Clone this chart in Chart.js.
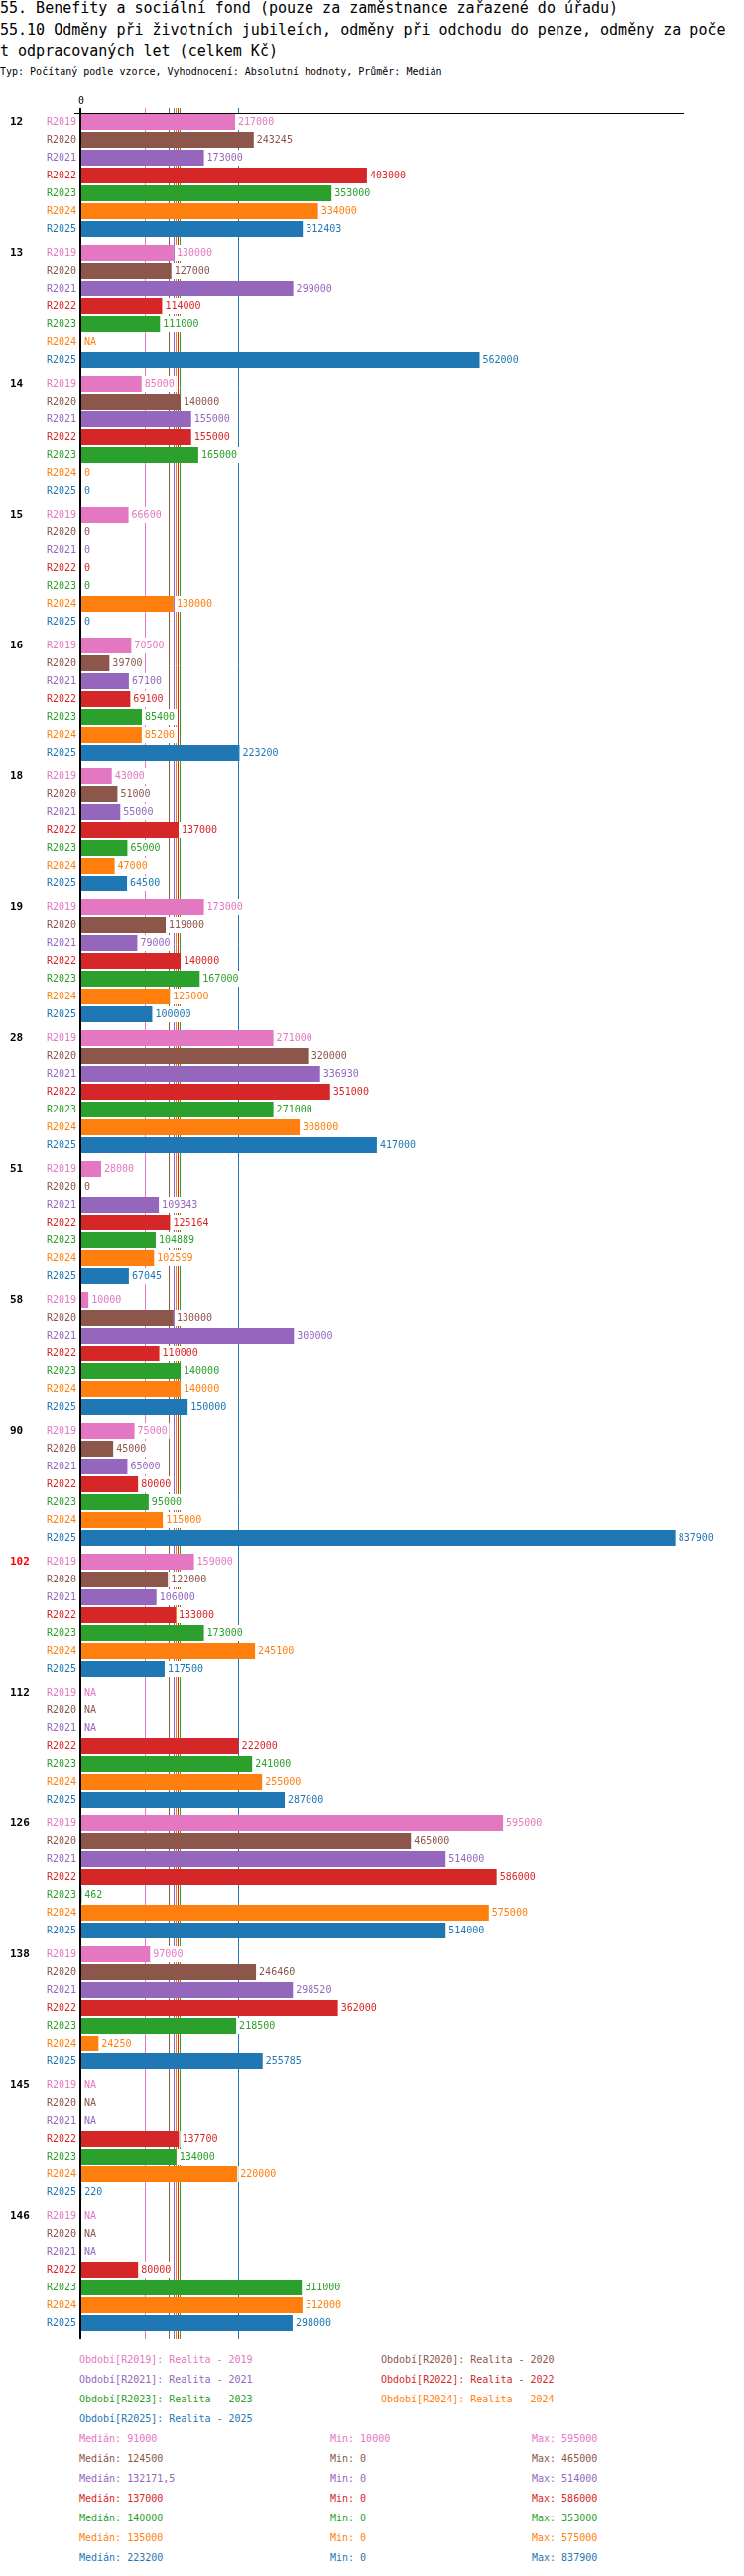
<!DOCTYPE html>
<html>
<head>
<meta charset="utf-8">
<title>55.10 Odměny</title>
<script src="https://cdn.jsdelivr.net/npm/chart.js@4.4.1/dist/chart.umd.min.js"></script>
<style>
    body { margin: 0; background: #fff; }
    #page { position: relative; width: 750px; height: 2598px; overflow: hidden; font-family: "DejaVu Sans Mono", monospace; }
    .title { position: absolute; left: 0; font-size: 15px; color: #000; }
    #title1 { top: -2px; line-height: 20px; white-space: nowrap; }
    #title2 { top: 20px; line-height: 21px; width: 738px; word-break: break-all; }
    #sub { position: absolute; left: 0; top: 66px; font-size: 10px; line-height: 14px; white-space: nowrap; }
    #chartBox { position: absolute; left: 0; top: 88px; }
    .leg { position: absolute; font-size: 10px; line-height: 14px; white-space: nowrap; }
</style>
</head>
<body>
<div id="page">
    <div class="title" id="title1">55. Benefity a sociální fond (pouze za zaměstnance zařazené do úřadu)</div>
    <div class="title" id="title2">55.10 Odměny při životních jubileích, odměny při odchodu do penze, odměny za počet odpracovaných let (celkem Kč)</div>
    <div id="sub">Typ: Počítaný podle vzorce, Vyhodnocení: Absolutní hodnoty, Průměr: Medián</div>
    <div id="chartBox"><canvas id="barChart" width="750" height="2282"></canvas></div>
    <div id="legend"></div>
</div>
<script>
let groups = ['12', '13', '14', '15', '16', '18', '19', '28', '51', '58', '90', '102', '112', '126', '138', '145', '146'];
let highlight_group = '102';
let years = ['R2019', 'R2020', 'R2021', 'R2022', 'R2023', 'R2024', 'R2025'];
let year_names = ['Realita - 2019', 'Realita - 2020', 'Realita - 2021', 'Realita - 2022', 'Realita - 2023', 'Realita - 2024', 'Realita - 2025'];
let colors = ['#e377c2', '#8c564b', '#9467bd', '#d62728', '#2ca02c', '#ff7f0e', '#1f77b4'];

// null = NA in the report
let r2019 = [217000, 130000, 85000, 66600, 70500, 43000, 173000, 271000, 28000, 10000, 75000, 159000, null, 595000, 97000, null, null];
let r2020 = [243245, 127000, 140000, 0, 39700, 51000, 119000, 320000, 0, 130000, 45000, 122000, null, 465000, 246460, null, null];
let r2021 = [173000, 299000, 155000, 0, 67100, 55000, 79000, 336930, 109343, 300000, 65000, 106000, null, 514000, 298520, null, null];
let r2022 = [403000, 114000, 155000, 0, 69100, 137000, 140000, 351000, 125164, 110000, 80000, 133000, 222000, 586000, 362000, 137700, 80000];
let r2023 = [353000, 111000, 165000, 0, 85400, 65000, 167000, 271000, 104889, 140000, 95000, 173000, 241000, 462, 218500, 134000, 311000];
let r2024 = [334000, null, 0, 130000, 85200, 47000, 125000, 308000, 102599, 140000, 115000, 245100, 255000, 575000, 24250, 220000, 312000];
let r2025 = [312403, 562000, 0, 0, 223200, 64500, 100000, 417000, 67045, 150000, 837900, 117500, 287000, 514000, 255785, 220, 298000];
let series = [r2019, r2020, r2021, r2022, r2023, r2024, r2025];

let medians = [91000, 124500, 132171.5, 137000, 140000, 135000, 223200];
let mins = [10000, 0, 0, 0, 0, 0, 0];
let maxes = [595000, 465000, 514000, 586000, 353000, 575000, 837900];
let x_ticks = [0];

let mono = '"DejaVu Sans Mono", monospace';

// legend + stats below the chart
let legend = document.getElementById('legend');
function addText(txt, left, center, color) {
    let d = document.createElement('div');
    d.className = 'leg';
    d.textContent = txt;
    d.style.left = left + 'px';
    d.style.top = (center - 7) + 'px';
    d.style.color = color;
    legend.appendChild(d);
}
for (let i = 0; i < years.length; i++) {
    let col = i % 2;
    let row = Math.floor(i / 2);
    addText('Období[' + years[i] + ']: ' + year_names[i], col === 0 ? 80 : 384, 2380 + row * 20, colors[i]);
}
for (let i = 0; i < years.length; i++) {
    let y = 2460 + i * 20;
    addText('Medián: ' + String(medians[i]).replace('.', ','), 80, y, colors[i]);
    addText('Min: ' + mins[i], 333, y, colors[i]);
    addText('Max: ' + maxes[i], 536, y, colors[i]);
}

let datasets = [];
for (let i = 0; i < years.length; i++) {
    datasets.push({
        label: years[i],
        data: series[i],
        backgroundColor: colors[i],
        borderWidth: 0,
        categoryPercentage: 126 / 132,
        barPercentage: 16 / 18
    });
}

// median lines + axis lines behind the bars, labels on top
let decorPlugin = {
    id: 'decor',
    beforeDatasetsDraw(chart) {
        let ctx = chart.ctx;
        let area = chart.chartArea;
        let xs = chart.scales.x;
        ctx.save();
        for (let i = 0; i < medians.length; i++) {
            let x = Math.round(xs.getPixelForValue(medians[i])) - 0.5;
            ctx.strokeStyle = colors[i];
            ctx.lineWidth = 1;
            ctx.beginPath();
            ctx.moveTo(x, area.top - 2);
            ctx.lineTo(x, area.bottom + 4);
            ctx.stroke();
        }
        ctx.fillStyle = '#000';
        ctx.fillRect(area.left - 2, area.top - 2, 2, area.bottom - area.top + 6);
        ctx.fillRect(area.left - 7, area.top + 3, area.right - area.left + 7, 1);
        ctx.restore();
    },
    afterDatasetsDraw(chart) {
        let ctx = chart.ctx;
        let xs = chart.scales.x;
        let ys = chart.scales.y;
        let slot = ys.height / groups.length * (126 / 132) / years.length;
        ctx.save();
        ctx.textBaseline = 'middle';
        for (let d = 0; d < years.length; d++) {
            let meta = chart.getDatasetMeta(d);
            for (let i = 0; i < groups.length; i++) {
                let v = series[d][i];
                let bar = meta.data[i];
                let y = bar && isFinite(bar.y) ? bar.y : ys.getPixelForValue(i) + (d - 3) * slot;
                let txt = v === null ? 'NA' : String(v);
                let x = xs.getPixelForValue(v === null ? 0 : v) + 3;
                ctx.font = '10px ' + mono;
                let w = ctx.measureText(txt).width;
                ctx.fillStyle = '#fff';
                ctx.fillRect(x - 2, y - 8, w + 4, 16);
                ctx.fillStyle = colors[d];
                ctx.textAlign = 'left';
                ctx.fillText(txt, x, y);
                // row label
                ctx.textAlign = 'right';
                ctx.fillText(years[d], 77, y);
                if (d === 0) {
                    ctx.font = 'bold 11px ' + mono;
                    ctx.textAlign = 'left';
                    ctx.fillStyle = groups[i] === highlight_group ? '#ff0000' : '#000';
                    ctx.fillText(groups[i], 10, y);
                }
            }
        }
        ctx.restore();
    }
};

let ctx1 = document.getElementById('barChart');
let barChart = new Chart(ctx1, {
    type: 'bar',
    data: {
        labels: groups,
        datasets: datasets
    },
    options: {
        indexAxis: 'y',
        responsive: false,
        maintainAspectRatio: false,
        animation: false,
        layout: {
            padding: { left: 82, right: 60, top: 5, bottom: 15 }
        },
        plugins: {
            legend: { display: false },
            tooltip: { enabled: false }
        },
        scales: {
            x: {
                type: 'linear',
                position: 'top',
                min: 0,
                max: 851000,
                afterBuildTicks: (axis) => {
                    axis.ticks = x_ticks.map(v => ({ value: v }));
                },
                grid: { display: false, drawTicks: false },
                border: { display: false },
                ticks: {
                    padding: 3,
                    color: '#000',
                    font: { family: mono, size: 10 }
                }
            },
            y: {
                type: 'category',
                display: false
            }
        }
    },
    plugins: [decorPlugin]
});
</script>
</body>
</html>
